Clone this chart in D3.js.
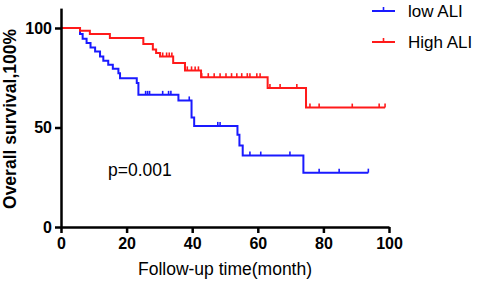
<!DOCTYPE html>
<html>
<head>
<meta charset="utf-8">
<script src="https://cdn.jsdelivr.net/npm/d3@7"></script>
<style>
  body { margin: 0; background: #fff; }
  text { font-family: Arial, "Liberation Sans", sans-serif; }
</style>
</head>
<body>
<div id="chart"></div>
<script>
// low ALI group: event times (months) and survival after each drop (%)
var lowTimes = [5.8, 6.6, 7.8, 9.0, 10.4, 11.9, 12.9, 14.4, 15.8, 17.5, 18.0, 23.1, 23.6, 35.8, 39.8, 40.6, 53.8, 54.4, 55.4, 73.9];
var lowSurv  = [97.0, 94.6, 92.4, 90.2, 88.2, 85.7, 83.5, 81.5, 79.5, 77.3, 74.8, 72.3, 66.4, 63.6, 55.0, 50.8, 46.3, 40.9, 35.9, 27.3];
var lowCensor = [25.8, 26.4, 27.0, 31.0, 32.8, 33.5, 39.1, 47.8, 48.5, 57.6, 60.9, 69.8, 78.7, 84.8, 93.7];
var lowEnd = 93.7;

// High ALI group
var highTimes = [5.8, 8.8, 14.9, 25.1, 28.0, 29.0, 30.2, 34.2, 37.8, 42.7, 63.0, 74.7];
var highSurv  = [98.6, 97.0, 95.0, 92.0, 89.2, 87.4, 85.7, 82.4, 78.7, 75.3, 69.8, 60.0];
var highCensor = [31.0, 32.2, 33.0, 33.8, 38.5, 39.8, 40.9, 41.9, 42.9, 44.9, 46.7, 48.5, 50.3, 52.0, 53.6, 55.1, 56.8, 57.6, 59.7, 60.7, 63.7, 66.8, 71.9, 75.9, 78.7, 88.8, 97.0, 98.8];
var highEnd = 98.8;

var xTicks = [0, 20, 40, 60, 80, 100];
var yTicks = [0, 50, 100];

var width = 477, height = 282;

var svg = d3.select("#chart")
  .append("svg")
  .attr("width", width)
  .attr("height", height);

var x = d3.scaleLinear().domain([0, 100]).range([61, 389]);
var y = d3.scaleLinear().domain([0, 110]).range([227, 8.1]);

var series = [
  { name: "low ALI", color: "#1a1aff", times: lowTimes, surv: lowSurv, censor: lowCensor, end: lowEnd },
  { name: "High ALI", color: "#ff1a1a", times: highTimes, surv: highSurv, censor: highCensor, end: highEnd }
];

// survival value at time t (step function)
function survAt(s, t) {
  var v = 100;
  for (var i = 0; i < s.times.length; i++) {
    if (s.times[i] <= t) v = s.surv[i];
  }
  return v;
}

var line = d3.line()
  .x(function(d) { return x(d[0]); })
  .y(function(d) { return y(d[1]); })
  .curve(d3.curveStepAfter);

series.forEach(function(s) {
  var pts = [[0, 100]];
  s.times.forEach(function(t, i) { pts.push([t, s.surv[i]]); });
  pts.push([s.end, s.surv[s.surv.length - 1]]);

  svg.append("path")
    .datum(pts)
    .attr("d", line)
    .attr("fill", "none")
    .attr("stroke", s.color)
    .attr("stroke-width", 2);

  svg.selectAll(".tick-" + s.name.replace(" ", ""))
    .data(s.censor)
    .enter()
    .append("line")
    .attr("x1", function(d) { return x(d); })
    .attr("x2", function(d) { return x(d); })
    .attr("y1", function(d) { return y(survAt(s, d)); })
    .attr("y2", function(d) { return y(survAt(s, d)) - 4; })
    .attr("stroke", s.color)
    .attr("stroke-width", 1.6);
});

// axes
var xAxis = svg.append("g")
  .attr("transform", "translate(0,227)")
  .call(d3.axisBottom(x).tickValues(xTicks).tickSize(6).tickSizeOuter(0).tickPadding(5));

var yAxis = svg.append("g")
  .attr("transform", "translate(61,0)")
  .call(d3.axisLeft(y).tickValues(yTicks).tickSize(6).tickSizeOuter(0).tickPadding(3));

[xAxis, yAxis].forEach(function(a) {
  a.select(".domain").attr("stroke", "#000").attr("stroke-width", 2.5);
  a.selectAll(".tick line").attr("stroke", "#000").attr("stroke-width", 2.5);
  a.selectAll(".tick text")
    .attr("fill", "#000")
    .style("font-size", "16px")
    .style("font-weight", "bold")
    .style("font-family", "Arial, 'Liberation Sans', sans-serif");
});

// axis titles
svg.append("text")
  .attr("x", 225)
  .attr("y", 275)
  .attr("text-anchor", "middle")
  .style("font-size", "17.5px")
  .text("Follow-up time(month)");

svg.append("text")
  .attr("transform", "translate(16,119) rotate(-90)")
  .attr("text-anchor", "middle")
  .style("font-size", "17.5px")
  .style("font-weight", "bold")
  .text("Overall survival,100%");

svg.append("text")
  .attr("x", 108)
  .attr("y", 176)
  .style("font-size", "17.5px")
  .text("p=0.001");

// legend
var legend = svg.selectAll(".legend")
  .data(series)
  .enter()
  .append("g")
  .attr("transform", function(d, i) { return "translate(0," + (11 + i * 31) + ")"; });

legend.append("line")
  .attr("x1", 372).attr("x2", 395)
  .attr("stroke", function(d) { return d.color; })
  .attr("stroke-width", 2);

legend.append("line")
  .attr("x1", 383.5).attr("x2", 383.5)
  .attr("y1", 0).attr("y2", -4)
  .attr("stroke", function(d) { return d.color; })
  .attr("stroke-width", 1.6);

legend.append("text")
  .attr("x", 408)
  .attr("y", 6)
  .style("font-size", "17px")
  .text(function(d) { return d.name; });
</script>
</body>
</html>
